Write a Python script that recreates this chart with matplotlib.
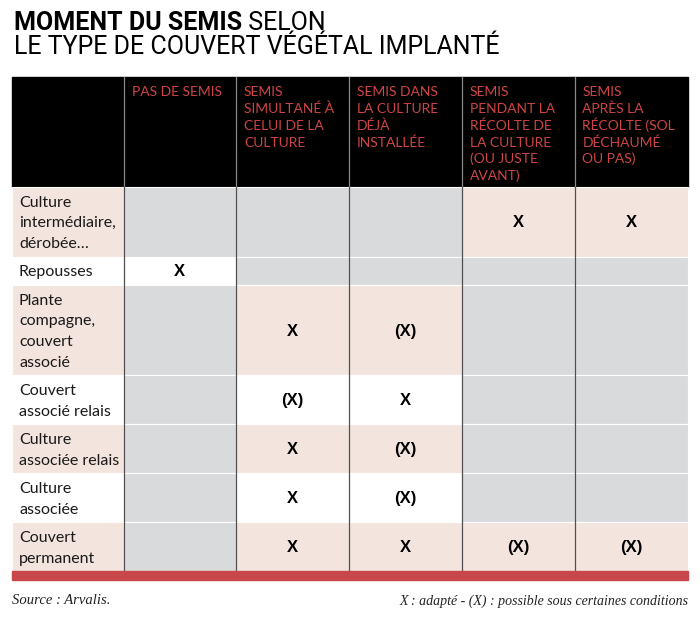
import matplotlib.pyplot as plt
from matplotlib.patches import Rectangle

# table content
columns = ["PAS DE SEMIS",
           "SEMIS\nSIMULTANÉ À\nCELUI DE LA\nCULTURE",
           "SEMIS DANS\nLA CULTURE\nDÉJÀ\nINSTALLÉE",
           "SEMIS\nPENDANT LA\nRÉCOLTE DE\nLA CULTURE\n(OU JUSTE\nAVANT)",
           "SEMIS\nAPRÈS LA\nRÉCOLTE (SOL\nDÉCHAUMÉ\nOU PAS)"]
rows = ["Culture\nintermédiaire,\ndérobée…",
        "Repousses",
        "Plante\ncompagne,\ncouvert\nassocié",
        "Couvert\nassocié relais",
        "Culture\nassociée relais",
        "Culture\nassociée",
        "Couvert\npermanent"]
marks = [["", "", "", "X", "X"],
         ["X", "", "", "", ""],
         ["", "X", "(X)", "", ""],
         ["", "(X)", "X", "", ""],
         ["", "X", "(X)", "", ""],
         ["", "X", "(X)", "", ""],
         ["", "X", "X", "(X)", "(X)"]]

title_bold = "MOMENT DU SEMIS"
title_rest = " SELON"
title_line2 = "LE TYPE DE COUVERT VÉGÉTAL IMPLANTÉ"
source = "Source : Arvalis."
legend_note = "X : adapté - (X) : possible sous certaines conditions"

PINK = "#f3e4de"
GRAY = "#d9dadc"
RED_TXT = "#cf4444"
RED_BAR = "#c8474a"

fig = plt.figure(figsize=(7, 6.18), dpi=100)
ax = fig.add_axes([0, 0, 1, 1])
ax.set_xlim(0, 700)
ax.set_ylim(618, 0)
ax.axis('off')

# title (baselines)
t = ax.text(14, 30, title_bold, fontsize=18, fontweight='bold', family='Roboto',
            va='baseline', ha='left')
fig.canvas.draw()
bb = t.get_window_extent().transformed(ax.transData.inverted())
ax.text(bb.x1, 30, title_rest, fontsize=18, family='Roboto', va='baseline', ha='left')
ax.text(14, 53.5, title_line2, fontsize=18, family='Roboto', va='baseline', ha='left')

col_edges = [12, 123.5, 236, 349, 462, 574.5, 688]
head_top, head_bot = 77, 187
head_step = 16.7
row_step = 20.7

# header
ax.add_patch(Rectangle((col_edges[0], head_top), col_edges[-1] - col_edges[0],
                       head_bot - head_top, color='black', zorder=1))
for j, c in enumerate(columns):
    for k, line in enumerate(c.split("\n")):
        ax.text(col_edges[j + 1] + 8, head_top + 19.5 + k * head_step, line,
                color=RED_TXT, fontsize=10, family='Lato', va='baseline',
                ha='left', zorder=3)

# body rows
y = head_bot
for i, lab in enumerate(rows):
    lines = lab.split("\n")
    h = row_step * len(lines) + 7.6
    row_col = PINK if i % 2 == 0 else "white"
    ax.add_patch(Rectangle((col_edges[0], y), col_edges[1] - col_edges[0], h,
                           facecolor=row_col, edgecolor='white', lw=0.8, zorder=1))
    y0 = y + h / 2 - row_step * (len(lines) - 1) / 2
    for k, line in enumerate(lines):
        ax.text(19, y0 + k * row_step + 5.5, line, fontsize=11.5, family='Lato',
                va='baseline', ha='left', color='#1a1a1a', zorder=3)
    for j, m in enumerate(marks[i]):
        fc = row_col if m else GRAY
        ax.add_patch(Rectangle((col_edges[j + 1], y), col_edges[j + 2] - col_edges[j + 1], h,
                               facecolor=fc, edgecolor='white', lw=0.8, zorder=1))
        if m:
            ax.text((col_edges[j + 1] + col_edges[j + 2]) / 2, y + h / 2 + 1, m,
                    fontsize=12, fontweight='bold', family='Liberation Sans',
                    va='center', ha='center', zorder=3)
    y += h
body_bot = y

# column separators
for x in col_edges[1:-1]:
    ax.plot([x, x], [head_top, head_bot], color='#8a8a8a', lw=0.9, zorder=2)
    ax.plot([x, x], [head_bot, body_bot], color='#505050', lw=0.9, zorder=2)

# red bar
ax.add_patch(Rectangle((col_edges[0], body_bot), col_edges[-1] - col_edges[0], 9,
                       color=RED_BAR, zorder=2))

# footer
ax.text(12, 601, source, fontsize=10.5, style='italic', family='Liberation Serif',
        va='center', ha='left', color='#222222')
ax.text(688, 601, legend_note, fontsize=10, style='italic', family='Liberation Serif',
        va='center', ha='right', color='#222222')

fig.savefig('out.png', dpi=100)
